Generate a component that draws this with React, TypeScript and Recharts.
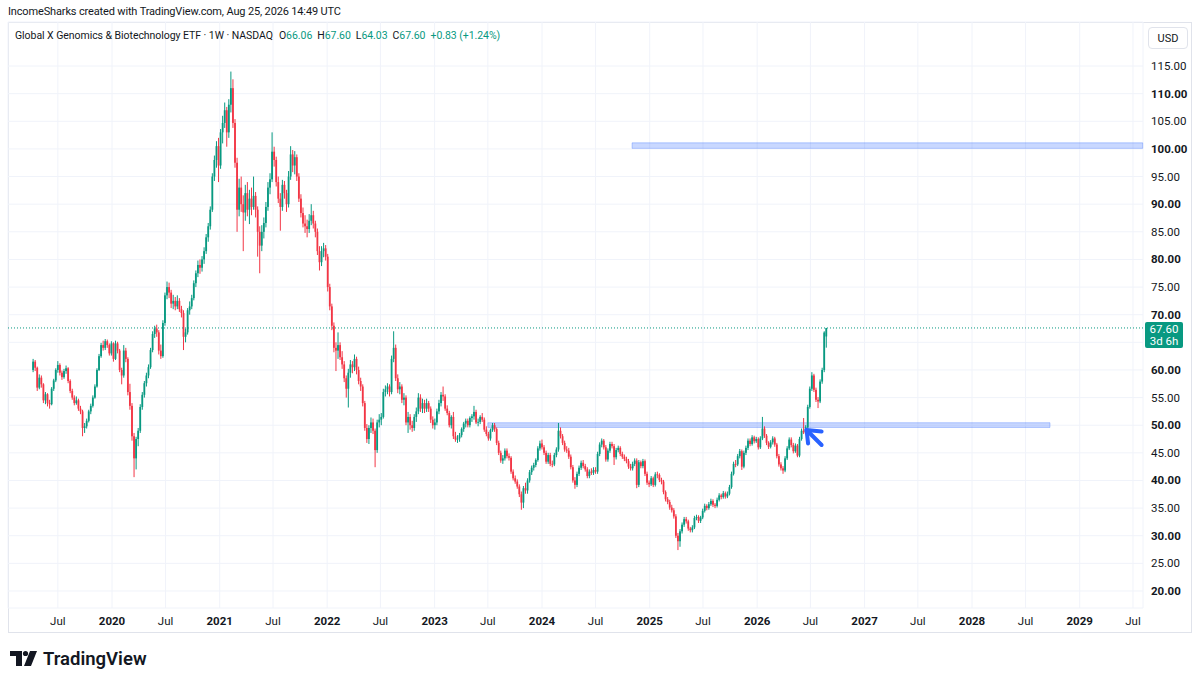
import React from 'react';
import {
  ComposedChart,
  Bar,
  XAxis,
  YAxis,
  CartesianGrid,
  ReferenceArea,
  ReferenceLine,
} from 'recharts';

// weekly candles, [open, high, low, close], first week starts 2019-04-08
const FIRST_WEEK = '2019-04-08';

const candles2019 = [
  [60.0, 62.0, 59.6, 61.5], [61.5, 61.8, 59.8, 60.4], [60.4, 60.6, 56.2, 56.8], [56.8, 59.2, 56.5, 58.6],
  [58.6, 59.0, 56.8, 57.4], [57.4, 57.6, 54.0, 54.5], [54.5, 56.0, 53.8, 55.6], [55.6, 55.8, 53.4, 54.0],
  [54.0, 54.6, 53.0, 53.8], [53.8, 56.9, 53.6, 56.6], [56.6, 58.4, 56.2, 58.1], [58.1, 60.3, 57.8, 60.0],
  [60.0, 61.6, 59.5, 60.9], [60.9, 61.2, 59.0, 59.5], [59.5, 59.9, 58.2, 58.7], [58.7, 60.2, 58.4, 59.8],
  [59.8, 60.8, 59.3, 60.3], [60.3, 60.5, 57.6, 58.0], [58.0, 58.3, 55.8, 56.2], [56.2, 56.6, 54.6, 55.0],
  [55.0, 55.4, 53.6, 54.0], [54.0, 55.2, 53.7, 54.5], [54.5, 54.8, 52.6, 53.0], [53.0, 53.5, 52.0, 52.5],
  [52.5, 52.8, 48.0, 49.5], [49.5, 50.4, 48.6, 49.8], [49.8, 51.2, 49.4, 50.8], [50.8, 52.8, 50.5, 52.5],
  [52.5, 53.9, 52.0, 53.5], [53.5, 55.4, 53.2, 55.0], [55.0, 57.4, 54.8, 57.0], [57.0, 60.3, 56.8, 60.0],
  [60.0, 62.9, 59.8, 62.5], [62.5, 64.9, 62.2, 64.5], [64.5, 65.3, 63.5, 64.0], [64.0, 65.6, 63.6, 65.2],
  [65.2, 65.5, 64.0, 64.5], [64.5, 64.8, 62.6, 63.0],
];

const candles2020 = [
  [63.0, 65.2, 62.6, 64.8], [64.8, 65.0, 61.5, 62.0], [62.0, 65.3, 61.8, 64.8], [64.8, 65.1, 63.0, 63.5],
  [63.5, 63.8, 59.6, 60.0], [60.0, 60.4, 57.4, 59.0], [59.0, 64.5, 58.6, 63.5], [63.5, 64.0, 61.4, 62.0],
  [62.0, 62.3, 55.4, 56.0], [56.0, 57.5, 52.8, 53.5], [53.5, 54.0, 47.2, 48.0], [48.0, 48.6, 40.6, 44.0],
  [44.0, 47.9, 42.0, 47.5], [47.5, 49.5, 46.2, 49.0], [49.0, 53.8, 48.6, 53.3], [53.3, 56.0, 52.8, 55.5],
  [55.5, 58.0, 55.0, 57.6], [57.6, 59.5, 57.0, 59.0], [59.0, 61.0, 58.5, 60.5], [60.5, 64.0, 60.2, 63.6],
  [63.6, 67.0, 63.2, 66.5], [66.5, 68.0, 65.8, 67.5], [67.5, 68.2, 66.0, 66.8], [66.8, 67.2, 62.8, 63.5],
  [63.5, 64.6, 62.0, 62.5], [62.5, 69.0, 62.2, 68.5], [68.5, 74.0, 68.0, 73.5], [73.5, 76.0, 72.8, 75.0],
  [75.0, 75.8, 73.0, 74.0], [74.0, 74.5, 71.2, 72.0], [72.0, 73.6, 71.0, 72.5], [72.5, 73.2, 70.8, 71.5],
  [71.5, 73.5, 71.0, 72.5], [72.5, 73.0, 70.5, 71.0], [71.0, 71.6, 69.5, 70.3], [70.3, 70.8, 63.6, 66.0],
  [66.0, 67.5, 65.0, 66.8], [66.8, 71.2, 66.4, 70.8], [70.8, 72.4, 70.0, 71.5], [71.5, 73.6, 71.0, 73.0],
  [73.0, 76.2, 72.6, 75.7], [75.7, 78.0, 75.0, 77.5], [77.5, 79.8, 76.8, 79.0], [79.0, 80.0, 77.4, 78.5],
  [78.5, 80.6, 77.8, 80.0], [80.0, 82.2, 79.2, 81.5], [81.5, 84.6, 81.0, 84.0], [84.0, 86.6, 83.2, 86.0],
  [86.0, 89.6, 85.4, 89.0], [89.0, 95.6, 88.6, 95.0], [95.0, 98.8, 94.2, 98.0], [98.0, 101.4, 96.6, 100.5],
];

const candles2021 = [
  [100.5, 102.0, 94.0, 97.0], [97.0, 103.6, 96.4, 103.0], [103.0, 106.0, 101.0, 104.7], [104.7, 108.4, 103.8, 107.0],
  [107.0, 107.6, 100.4, 103.0], [103.0, 109.0, 102.0, 108.0], [108.0, 114.0, 106.6, 111.0], [111.0, 112.6, 103.8, 104.7],
  [104.7, 105.4, 96.6, 97.5], [97.5, 98.4, 85.0, 89.0], [89.0, 94.6, 87.8, 93.0], [93.0, 95.0, 88.6, 90.0],
  [90.0, 91.6, 81.5, 88.5], [88.5, 93.5, 87.0, 92.0], [92.0, 94.0, 87.8, 89.0], [89.0, 92.6, 86.4, 91.0],
  [91.0, 93.0, 88.0, 89.5], [89.5, 95.0, 89.0, 91.5], [91.5, 92.2, 87.6, 89.0], [89.0, 89.6, 80.5, 85.0],
  [85.0, 86.0, 77.5, 82.5], [82.5, 86.2, 81.5, 85.0], [85.0, 87.6, 83.8, 86.6], [86.6, 90.4, 85.8, 89.5],
  [89.5, 94.0, 88.8, 93.0], [93.0, 95.6, 91.8, 94.5], [94.5, 103.0, 94.0, 99.5], [99.5, 100.4, 96.8, 98.0],
  [98.0, 98.6, 93.2, 94.0], [94.0, 95.0, 90.2, 91.0], [91.0, 92.0, 85.2, 89.5], [89.5, 94.4, 88.8, 93.5],
  [93.5, 94.2, 91.0, 92.0], [92.0, 92.6, 88.6, 90.0], [90.0, 96.0, 89.4, 95.0], [95.0, 100.5, 94.4, 99.0],
  [99.0, 99.8, 95.8, 97.0], [97.0, 99.6, 95.4, 98.5], [98.5, 99.0, 94.2, 95.0], [95.0, 95.6, 90.4, 91.0],
  [91.0, 91.8, 87.6, 88.4], [88.4, 89.4, 85.8, 86.5], [86.5, 88.0, 84.8, 86.0], [86.0, 87.2, 84.0, 85.5],
  [85.5, 88.2, 84.8, 87.0], [87.0, 90.0, 86.2, 88.0], [88.0, 88.8, 85.6, 86.5], [86.5, 87.0, 84.0, 85.0],
  [85.0, 85.6, 80.8, 81.5], [81.5, 82.4, 78.0, 79.5], [79.5, 82.4, 78.8, 81.5], [81.5, 83.0, 80.4, 82.0],
];

const candles2022 = [
  [82.0, 82.6, 79.8, 80.5], [80.5, 81.0, 74.2, 75.0], [75.0, 75.6, 70.8, 71.5], [71.5, 72.0, 67.2, 68.0],
  [68.0, 68.6, 63.2, 64.0], [64.0, 65.0, 59.8, 63.5], [63.5, 66.8, 62.0, 64.5], [64.5, 65.0, 61.8, 62.3],
  [62.3, 63.4, 60.2, 61.0], [61.0, 61.6, 57.8, 58.5], [58.5, 59.0, 55.0, 56.6], [56.6, 60.2, 53.2, 59.5],
  [59.5, 61.8, 58.6, 61.0], [61.0, 61.6, 59.4, 60.5], [60.5, 62.8, 59.8, 62.0], [62.0, 62.4, 59.2, 60.0],
  [60.0, 60.6, 57.4, 58.0], [58.0, 58.6, 56.2, 57.0], [57.0, 57.4, 53.4, 54.0], [54.0, 54.4, 49.0, 49.5],
  [49.5, 50.2, 46.8, 47.5], [47.5, 50.0, 46.6, 49.5], [49.5, 51.4, 48.6, 50.5], [50.5, 51.2, 48.4, 49.0],
  [49.0, 49.4, 42.4, 45.5], [45.5, 51.0, 45.0, 50.5], [50.5, 52.0, 49.6, 51.0], [51.0, 52.2, 50.0, 51.5],
  [51.5, 56.6, 51.2, 56.0], [56.0, 57.2, 55.2, 56.5], [56.5, 57.6, 55.6, 57.0], [57.0, 57.4, 55.2, 56.0],
  [56.0, 62.6, 55.6, 62.0], [62.0, 67.0, 61.4, 64.0], [64.0, 64.6, 58.0, 58.5], [58.5, 59.2, 55.8, 56.5],
  [56.5, 57.8, 55.6, 57.0], [57.0, 57.4, 54.0, 54.6], [54.6, 55.8, 53.6, 55.0], [55.0, 55.4, 50.0, 50.5],
  [50.5, 52.4, 48.6, 51.5], [51.5, 52.0, 49.2, 50.0], [50.0, 50.8, 48.8, 49.5], [49.5, 52.0, 49.0, 51.5],
  [51.5, 53.2, 50.6, 52.5], [52.5, 55.8, 52.0, 55.0], [55.0, 55.6, 52.4, 53.0], [53.0, 54.8, 52.2, 54.0],
  [54.0, 54.6, 52.2, 53.0], [53.0, 54.8, 52.4, 54.0], [54.0, 54.4, 52.4, 53.0], [53.0, 53.4, 50.4, 51.0],
];

const candles2023 = [
  [51.0, 51.6, 49.4, 50.0], [50.0, 51.2, 49.2, 50.5], [50.5, 53.0, 50.0, 52.5], [52.5, 54.6, 52.0, 54.0],
  [54.0, 56.0, 53.4, 55.5], [55.5, 57.0, 54.4, 55.2], [55.2, 55.6, 52.6, 53.0], [53.0, 53.6, 51.8, 52.2],
  [52.2, 52.6, 49.6, 50.0], [50.0, 51.8, 49.4, 51.5], [51.5, 52.4, 47.5, 48.0], [48.0, 48.8, 47.0, 47.4],
  [47.4, 48.2, 46.8, 47.6], [47.6, 48.6, 47.0, 48.2], [48.2, 49.6, 47.8, 49.3], [49.3, 50.6, 48.8, 50.3],
  [50.3, 51.2, 49.6, 50.8], [50.8, 51.2, 49.6, 50.0], [50.0, 51.6, 49.6, 51.3], [51.3, 52.0, 50.6, 51.6],
  [51.6, 53.5, 51.0, 52.4], [52.4, 52.8, 50.2, 50.5], [50.5, 51.2, 49.8, 50.6], [50.6, 51.8, 50.2, 51.5],
  [51.5, 52.2, 50.6, 51.0], [51.0, 51.4, 48.8, 49.2], [49.2, 49.8, 48.0, 48.4], [48.4, 48.8, 47.2, 47.6],
  [47.6, 49.4, 47.2, 49.1], [49.1, 50.4, 48.8, 50.0], [50.0, 50.4, 48.8, 49.3], [49.3, 49.6, 46.4, 46.8],
  [46.8, 47.2, 44.6, 45.0], [45.0, 45.4, 43.2, 43.6], [43.6, 44.6, 43.0, 44.0], [44.0, 45.8, 43.6, 45.4],
  [45.4, 45.8, 44.0, 44.4], [44.4, 44.9, 43.6, 44.1], [44.1, 44.4, 41.2, 41.6], [41.6, 42.0, 40.0, 40.4],
  [40.4, 40.9, 39.4, 39.8], [39.8, 40.2, 38.5, 38.9], [38.9, 39.3, 37.0, 37.5], [37.5, 38.0, 34.7, 36.0],
  [36.0, 39.0, 35.0, 38.6], [38.6, 39.6, 37.6, 38.2], [38.2, 40.4, 37.6, 40.0], [40.0, 41.9, 39.6, 41.5],
  [41.5, 42.7, 41.0, 42.3], [42.3, 43.2, 41.8, 42.8], [42.8, 44.0, 42.4, 43.7], [43.7, 46.2, 43.4, 45.8],
];

const candles2024 = [
  [45.8, 47.2, 45.4, 46.7], [46.7, 47.4, 45.6, 46.0], [46.0, 46.4, 44.6, 45.0], [45.0, 45.4, 43.0, 43.4],
  [43.4, 45.0, 43.0, 44.6], [44.6, 45.0, 42.6, 43.0], [43.0, 43.6, 42.4, 42.9], [42.9, 45.0, 42.6, 44.6],
  [44.6, 46.0, 44.2, 45.6], [45.6, 50.4, 45.2, 49.0], [49.0, 49.6, 47.6, 48.0], [48.0, 48.4, 46.4, 46.8],
  [46.8, 47.2, 45.2, 45.6], [45.6, 46.2, 45.0, 45.4], [45.4, 45.9, 43.9, 44.3], [44.3, 44.7, 42.0, 42.4],
  [42.4, 42.8, 39.6, 40.0], [40.0, 40.6, 38.5, 39.2], [39.2, 41.6, 38.8, 41.2], [41.2, 42.7, 40.8, 42.3],
  [42.3, 43.6, 41.9, 43.2], [43.2, 43.7, 42.2, 42.6], [42.6, 43.0, 41.6, 42.0], [42.0, 42.4, 40.4, 40.8],
  [40.8, 42.0, 40.4, 41.6], [41.6, 42.2, 41.0, 41.4], [41.4, 42.4, 41.0, 41.9], [41.9, 42.4, 41.2, 41.6],
  [41.6, 45.2, 41.2, 44.8], [44.8, 46.9, 44.4, 46.5], [46.5, 47.6, 46.0, 47.2], [47.2, 47.5, 45.6, 46.0],
  [46.0, 46.4, 43.4, 43.8], [43.8, 45.8, 43.4, 45.4], [45.4, 47.0, 45.0, 46.6], [46.6, 47.0, 45.8, 46.2],
  [46.2, 46.6, 42.8, 44.2], [44.2, 45.9, 43.8, 45.5], [45.5, 46.3, 45.1, 45.9], [45.9, 46.2, 44.4, 44.8],
  [44.8, 45.2, 43.9, 44.3], [44.3, 44.7, 43.5, 43.9], [43.9, 44.3, 43.1, 43.5], [43.5, 43.9, 42.1, 42.5],
  [42.5, 43.0, 41.8, 42.2], [42.2, 43.4, 41.8, 43.0], [43.0, 44.0, 42.6, 43.6], [43.6, 44.0, 38.6, 39.2],
  [39.2, 43.7, 38.8, 43.3], [43.3, 43.6, 42.2, 42.6], [42.6, 43.9, 42.2, 43.5], [43.5, 43.8, 40.8, 41.2],
];

const candles2025 = [
  [41.2, 41.6, 39.2, 39.6], [39.6, 40.0, 38.8, 39.3], [39.3, 40.8, 39.0, 40.4], [40.4, 40.7, 38.8, 39.2],
  [39.2, 41.5, 38.9, 41.1], [41.1, 41.6, 40.4, 41.0], [41.0, 41.3, 39.7, 40.1], [40.1, 40.5, 39.3, 39.8],
  [39.8, 40.1, 37.5, 37.9], [37.9, 38.2, 36.2, 36.6], [36.6, 37.0, 35.7, 36.1], [36.1, 36.5, 34.7, 35.1],
  [35.1, 35.6, 34.2, 34.6], [34.6, 35.0, 33.1, 33.5], [33.5, 33.9, 29.6, 30.0], [30.0, 30.5, 27.4, 29.0],
  [29.0, 31.2, 28.0, 30.8], [30.8, 32.4, 30.4, 32.0], [32.0, 33.4, 31.6, 33.0], [33.0, 33.4, 32.2, 32.6],
  [32.6, 32.9, 30.9, 31.3], [31.3, 31.6, 30.6, 31.0], [31.0, 31.9, 30.6, 31.5], [31.5, 33.6, 31.2, 33.2],
  [33.2, 33.8, 32.8, 33.4], [33.4, 33.7, 32.3, 32.7], [32.7, 33.6, 32.3, 33.3], [33.3, 34.9, 33.0, 34.5],
  [34.5, 35.8, 34.2, 35.4], [35.4, 35.7, 34.6, 35.0], [35.0, 36.1, 34.7, 35.7], [35.7, 36.7, 35.4, 36.3],
  [36.3, 36.6, 35.2, 35.6], [35.6, 35.9, 35.0, 35.4], [35.4, 36.9, 35.1, 36.5], [36.5, 37.7, 36.2, 37.3],
  [37.3, 37.6, 36.6, 37.0], [37.0, 38.1, 36.7, 37.7], [37.7, 38.0, 36.7, 37.1], [37.1, 38.0, 36.8, 37.6],
  [37.6, 39.2, 37.3, 38.8], [38.8, 41.6, 38.5, 41.2], [41.2, 43.4, 40.9, 43.0], [43.0, 43.7, 42.4, 42.9],
  [42.9, 44.8, 42.6, 44.4], [44.4, 45.7, 44.0, 45.3], [45.3, 45.6, 41.9, 42.5], [42.5, 45.4, 42.2, 45.0],
  [45.0, 46.3, 44.6, 45.9], [45.9, 47.6, 45.5, 47.2], [47.2, 47.6, 46.2, 46.6], [46.6, 48.2, 46.3, 47.8],
];

const candles2026 = [
  [47.8, 48.1, 46.7, 47.1], [47.1, 47.9, 46.8, 47.5], [47.5, 47.8, 45.6, 46.0], [46.0, 48.0, 45.7, 47.6],
  [47.6, 51.5, 47.3, 49.4], [49.4, 49.8, 47.7, 48.1], [48.1, 48.4, 46.4, 46.8], [46.8, 47.1, 45.7, 46.1],
  [46.1, 47.3, 45.8, 46.9], [46.9, 48.0, 46.5, 47.6], [47.6, 47.9, 46.1, 46.5], [46.5, 46.8, 44.0, 44.4],
  [44.4, 44.8, 42.5, 42.9], [42.9, 43.3, 41.8, 42.2], [42.2, 42.6, 41.2, 41.8], [41.8, 44.4, 41.5, 44.0],
  [44.0, 46.2, 43.7, 45.8], [45.8, 47.8, 45.5, 47.4], [47.4, 47.8, 46.0, 46.4], [46.4, 46.8, 44.9, 45.3],
  [45.3, 46.7, 45.0, 46.3], [46.3, 46.6, 44.2, 44.5], [44.5, 47.9, 44.2, 47.5], [47.5, 49.4, 47.2, 49.0],
  [49.0, 51.3, 48.4, 48.7], [48.7, 50.0, 48.4, 49.6], [49.6, 53.7, 49.3, 53.3], [53.3, 57.0, 53.0, 56.6],
  [56.6, 59.6, 56.2, 59.0], [59.0, 59.3, 56.0, 56.4], [56.4, 56.8, 54.2, 54.6], [54.6, 55.1, 53.1, 54.3],
  [54.3, 58.3, 54.0, 57.9], [57.9, 60.4, 57.5, 60.0], [60.0, 67.0, 59.6, 66.77], [66.06, 67.6, 64.03, 67.6],
];

const priceTicks = [20, 25, 30, 35, 40, 45, 50, 55, 60, 65, 70, 75, 80, 85, 90, 95, 100, 105, 110, 115];
const timeTicks = [
  '2019-07-01', '2020-01-01', '2020-07-01', '2021-01-01', '2021-07-01', '2022-01-01', '2022-07-01',
  '2023-01-01', '2023-07-01', '2024-01-01', '2024-07-01', '2025-01-01', '2025-07-01', '2026-01-01',
  '2026-07-01', '2027-01-01', '2027-07-01', '2028-01-01', '2028-07-01', '2029-01-01', '2029-07-01',
];

// drawn zones (date from, date to, price low, price high)
const zones = [
  { from: '2024-11-02', to: '2029-08-03', low: 100.1, high: 101.1 },
  { from: '2023-07-01', to: '2028-09-22', low: 49.6, high: 50.45 },
];
// hand-drawn arrow, [date, price] pairs
const arrowTip = ['2026-06-18', 49.13];
const arrowEnds = [
  ['2026-08-08', 46.42],
  ['2026-08-08', 48.85],
  ['2026-06-23', 46.7],
];

const DAY = 86400000;
const ts = (d: string) => Date.parse(d + 'T00:00:00Z');
const X_MIN = ts('2020-01-01') - 353.4 * DAY;
const X_MAX = ts('2020-01-01') + 3503 * DAY;

const UP = '#089981';
const DOWN = '#f23645';
const TEXT = '#131722';
const FONT = 'Roboto, "Noto Sans", sans-serif';

const ohlc = [
  ...candles2019, ...candles2020, ...candles2021, ...candles2022,
  ...candles2023, ...candles2024, ...candles2025, ...candles2026,
];
const data = ohlc.map(([o, h, l, c], i) => ({
  t: ts(FIRST_WEEK) + i * 7 * DAY,
  o, h, l, c,
  range: [l, h],
}));
const last = ohlc[ohlc.length - 1];
const prevClose = ohlc[ohlc.length - 2][3];
const change = last[3] - prevClose;

const Candle = (props: any) => {
  const { x, y, width, height, payload } = props;
  if (x == null || y == null) return <g />;
  const { o, h, l, c } = payload;
  const color = c >= o ? UP : DOWN;
  const top = Math.min(y, y + height);
  const span = Math.abs(height);
  const cx = x + width / 2;
  const py = (v: number) => top + ((h - v) / (h - l)) * span;
  const bTop = py(Math.max(o, c));
  const bBot = py(Math.min(o, c));
  return (
    <g>
      <line x1={cx} x2={cx} y1={top} y2={top + span} stroke={color} strokeWidth={1} />
      <rect x={cx - 0.9} y={bTop} width={1.8} height={Math.max(bBot - bTop, 0.8)} fill={color} />
    </g>
  );
};

const TimeTick = ({ x, y, payload }: any) => {
  const d = new Date(payload.value);
  const isYear = d.getUTCMonth() === 0;
  return (
    <text x={x} y={y + 13} textAnchor="middle" dominantBaseline="central" fontSize={11.5}
      fontFamily={FONT} fontWeight={isYear ? 700 : 400} fill={TEXT}>
      {isYear ? d.getUTCFullYear() : 'Jul'}
    </text>
  );
};

const PriceTick = ({ x, y, payload }: any) => {
  // 65.00 sits under the last-price tag
  if (payload.value === 65) return <g />;
  return (
    <text x={x} y={y} dominantBaseline="central" fontSize={11.5} fontFamily={FONT}
      fontWeight={payload.value % 10 === 0 ? 700 : 400} fill={TEXT}>
      {payload.value.toFixed(2)}
    </text>
  );
};

const PriceTag = (props: any) => {
  const vb = props.viewBox;
  if (!vb) return null;
  const x = vb.x + vb.width + 2;
  const y = vb.y;
  return (
    <g>
      <rect x={x} y={y - 6} width={38} height={26} rx={2} fill={UP} />
      <text x={x + 19} y={y + 1} textAnchor="middle" dominantBaseline="central" fontSize={11.5}
        fontFamily={FONT} fill="#fff">{last[3].toFixed(2)}</text>
      <text x={x + 19} y={y + 13} textAnchor="middle" dominantBaseline="central" fontSize={11.5}
        fontFamily={FONT} fill="#fff">3d 6h</text>
    </g>
  );
};

const Logo = () => (
  <svg width={160} height={30} style={{ position: 'absolute', left: 0, top: 644 }}>
    <path d="M10 7 H22 V22 H16 V12 H10 Z" fill={TEXT} />
    <circle cx={25.5} cy={9.5} r={2.6} fill={TEXT} />
    <path d="M30 7 H37 L31 22 H24 Z" fill={TEXT} />
    <text x={43} y={21} fontSize={18.5} fontWeight={600} fontFamily={FONT} fill={TEXT}>TradingView</text>
  </svg>
);

export default function App() {
  const ohlcLabel = ['O', 'H', 'L', 'C'];
  return (
    <div style={{ position: 'absolute', left: 0, top: 0, width: 1199, height: 684, background: '#fff', fontFamily: FONT, color: TEXT }}>
      <div style={{ position: 'absolute', left: 8, top: 22, width: 1182, height: 609, border: '1px solid #e0e3eb' }} />
      <ComposedChart width={1199} height={684} data={data}
        margin={{ top: 22, right: 8, bottom: 52, left: 8 }}>
        <CartesianGrid stroke="#f0f3fa" />
        <XAxis dataKey="t" type="number" scale="linear" domain={[X_MIN, X_MAX]} allowDataOverflow
          ticks={timeTicks.map(ts)} interval={0} tick={<TimeTick />} tickLine={false} axisLine={false}
          tickSize={0} tickMargin={0} height={24} />
        <YAxis orientation="right" domain={[16.92, 122.97]} allowDataOverflow ticks={priceTicks}
          interval={0} tick={<PriceTick />} tickLine={false} axisLine={false} tickSize={0}
          tickMargin={8} width={48} />
        {zones.map((z) => (
          <ReferenceArea key={z.from} x1={ts(z.from)} x2={ts(z.to)} y1={z.low} y2={z.high}
            fill="#2962ff" fillOpacity={0.25} stroke="#2962ff" strokeOpacity={0.3} />
        ))}
        <Bar dataKey="range" barSize={2} isAnimationActive={false} shape={(p: any) => <Candle {...p} />} />
        <ReferenceLine y={last[3]} stroke={UP} strokeDasharray="1 2" label={<PriceTag />} />
        {arrowEnds.map(([d, p]) => (
          <ReferenceLine key={String(p)} segment={[{ x: ts(arrowTip[0] as string), y: arrowTip[1] as number }, { x: ts(d as string), y: p as number }]}
            stroke="#2962ff" strokeWidth={4} strokeLinecap="round" />
        ))}
      </ComposedChart>

      <div style={{ position: 'absolute', left: 8, top: 5, fontSize: 11, letterSpacing: -0.15, whiteSpace: 'nowrap' }}>
        IncomeSharks created with TradingView.com, Aug 25, 2026 14:49 UTC
      </div>
      <div style={{ position: 'absolute', left: 15, top: 29, fontSize: 10.5, letterSpacing: -0.05, whiteSpace: 'nowrap' }}>
        Global X Genomics &amp; Biotechnology ETF · 1W · NASDAQ
        {last.map((v, i) => (
          <span key={i} style={{ marginLeft: i === 0 ? 6 : 5 }}>
            {ohlcLabel[i]}<span style={{ color: UP }}>{v.toFixed(2)}</span>
          </span>
        ))}
        <span style={{ marginLeft: 5, color: UP }}>
          {(change >= 0 ? '+' : '') + change.toFixed(2)} ({(change >= 0 ? '+' : '') + ((change / prevClose) * 100).toFixed(2)}%)
        </span>
      </div>
      <div style={{ position: 'absolute', left: 1148, top: 27, width: 38, height: 20, border: '1px solid #e0e3eb',
        borderRadius: 4, fontSize: 11, display: 'flex', alignItems: 'center', justifyContent: 'center' }}>USD</div>
      <Logo />
    </div>
  );
}
